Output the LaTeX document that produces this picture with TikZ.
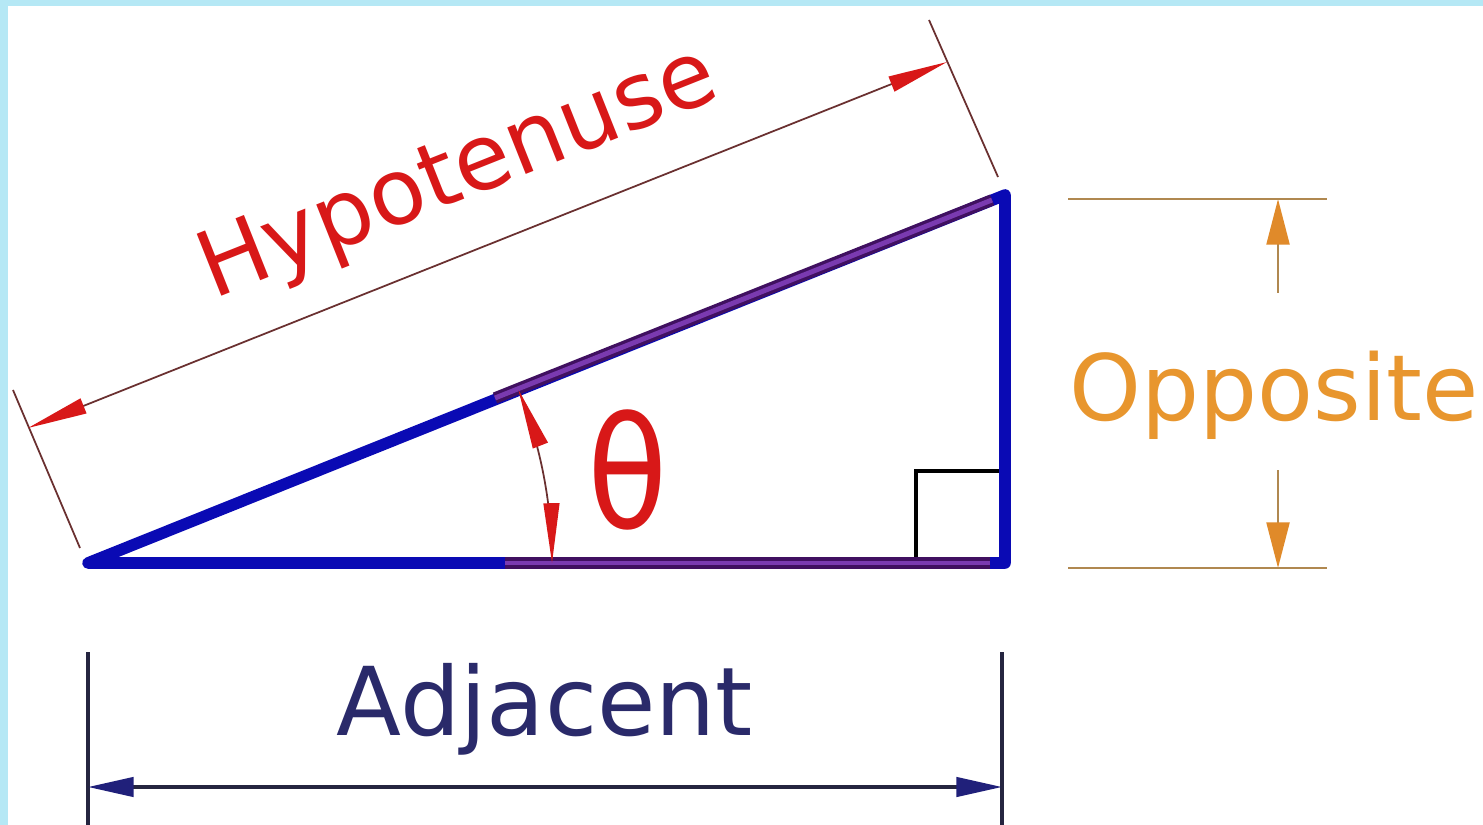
\documentclass[tikz,border=0pt]{standalone}
\usepackage{fontspec}
\setmainfont{DejaVu Sans}
\usetikzlibrary{arrows.meta}
\definecolor{cyanbg}{HTML}{B5E8F5}
\definecolor{triblue}{HTML}{0A0AB4}
\definecolor{purpdark}{HTML}{401060}
\definecolor{purp}{HTML}{7A3AB0}
\definecolor{hred}{HTML}{D81818}
\definecolor{hdim}{HTML}{6A3030}
\definecolor{oline}{HTML}{B08850}
\definecolor{ohead}{HTML}{E08A2A}
\definecolor{otext}{HTML}{E8962E}
\definecolor{nline}{HTML}{252540}
\definecolor{nhead}{HTML}{20207A}
\definecolor{ntext}{HTML}{2A2A6A}
\tikzset{
  side/.style={triblue, line width=3.3pt, line cap=round, line join=round},
  overlay/.style={purp, line width=1.4pt},
  overlaydark/.style={purpdark, line width=3.3pt},
  reddim/.style={hdim, line width=0.5pt, {Triangle[length=17pt,width=4.5pt,fill=hred,color=hred]}-{Triangle[length=17pt,width=4.5pt,fill=hred,color=hred]}},
  redext/.style={hdim, line width=0.5pt},
  oext/.style={oline, line width=0.8pt},
  odim/.style={oline, line width=0.8pt, -{Triangle[length=13pt,width=6.5pt,fill=ohead,color=ohead]}},
  next/.style={nline, line width=1pt},
  ndim/.style={nline, line width=1pt, {Triangle[length=13pt,width=5.5pt,fill=nhead,color=nhead]}-{Triangle[length=13pt,width=5.5pt,fill=nhead,color=nhead]}},
  lbl/.style={inner sep=0pt, font=\fontsize{27}{30}\selectfont},
}
\begin{document}
\begin{tikzpicture}[x=0.01cm, y=-0.01cm]
\useasboundingbox (0,0) rectangle (1483,825);
\fill[white] (0,0) rectangle (1483,825);
\fill[cyanbg] (0,0) rectangle (8,825);
\fill[cyanbg] (0,0) rectangle (1483,6);

% triangle vertices
\coordinate (A) at (88,563);
\coordinate (B) at (1005,563);
\coordinate (C) at (1005,195);
\coordinate (H1) at (495,398);
\coordinate (H2) at (992,200);
\coordinate (B1) at (505,563);
\coordinate (B2) at (990,563);

% right angle mark
\draw[black, line width=1pt] (916,563) |- (1000,471);

\draw[side] (A) -- (B) -- (C) -- cycle;
\draw[overlaydark] (H1) -- (H2);
\draw[overlay] (H1) -- (H2);
\draw[overlaydark] (B1) -- (B2);
\draw[overlay] (B1) -- (B2);

% hypotenuse dimension
\coordinate (he1a) at (13,390);
\coordinate (he1b) at (80,548);
\coordinate (he2a) at (929,20);
\coordinate (he2b) at (998,177);
\coordinate (hd1) at (28,428);
\coordinate (hd2) at (947,62);
\draw[redext] (he1a) -- (he1b);
\draw[redext] (he2a) -- (he2b);
\draw[reddim] (hd1) -- (hd2);
\node[lbl, text=hred, rotate=21.7, anchor=base, font=\fontsize{26}{30}\selectfont] (hyp) at (468,198) {Hypotenuse};

% angle
\draw[reddim] plot[domain=0:21.9, samples=40] ({88+464*cos(\x)}, {563-464*sin(\x)});
\node[inner sep=0pt, text=hred, font=\fontsize{44}{48}\selectfont, xscale=0.85] (theta) at (628,470) {θ};

% opposite dimension
\coordinate (oe1a) at (1068,199);
\coordinate (oe1b) at (1327,199);
\coordinate (oe2a) at (1068,568);
\coordinate (oe2b) at (1327,568);
\coordinate (od1) at (1278,199);
\coordinate (od1s) at (1278,293);
\coordinate (od2) at (1278,568);
\coordinate (od2s) at (1278,470);
\draw[oext] (oe1a) -- (oe1b);
\draw[oext] (oe2a) -- (oe2b);
\draw[odim] (od1s) -- (od1);
\draw[odim] (od2s) -- (od2);
\node[lbl, text=otext, anchor=base, font=\fontsize{26}{30}\selectfont] (opp) at (1274,420) {Opposite};

% adjacent dimension
\coordinate (ae1a) at (88,652);
\coordinate (ae1b) at (88,825);
\coordinate (ae2a) at (1002,652);
\coordinate (ae2b) at (1002,825);
\coordinate (ad1) at (88,787);
\coordinate (ad2) at (1002,787);
\draw[next] (ae1a) -- (ae1b);
\draw[next] (ae2a) -- (ae2b);
\draw[ndim] (ad1) -- (ad2);
\node[lbl, text=ntext, anchor=base] (adj) at (545,735) {Adjacent};
\end{tikzpicture}
\end{document}
